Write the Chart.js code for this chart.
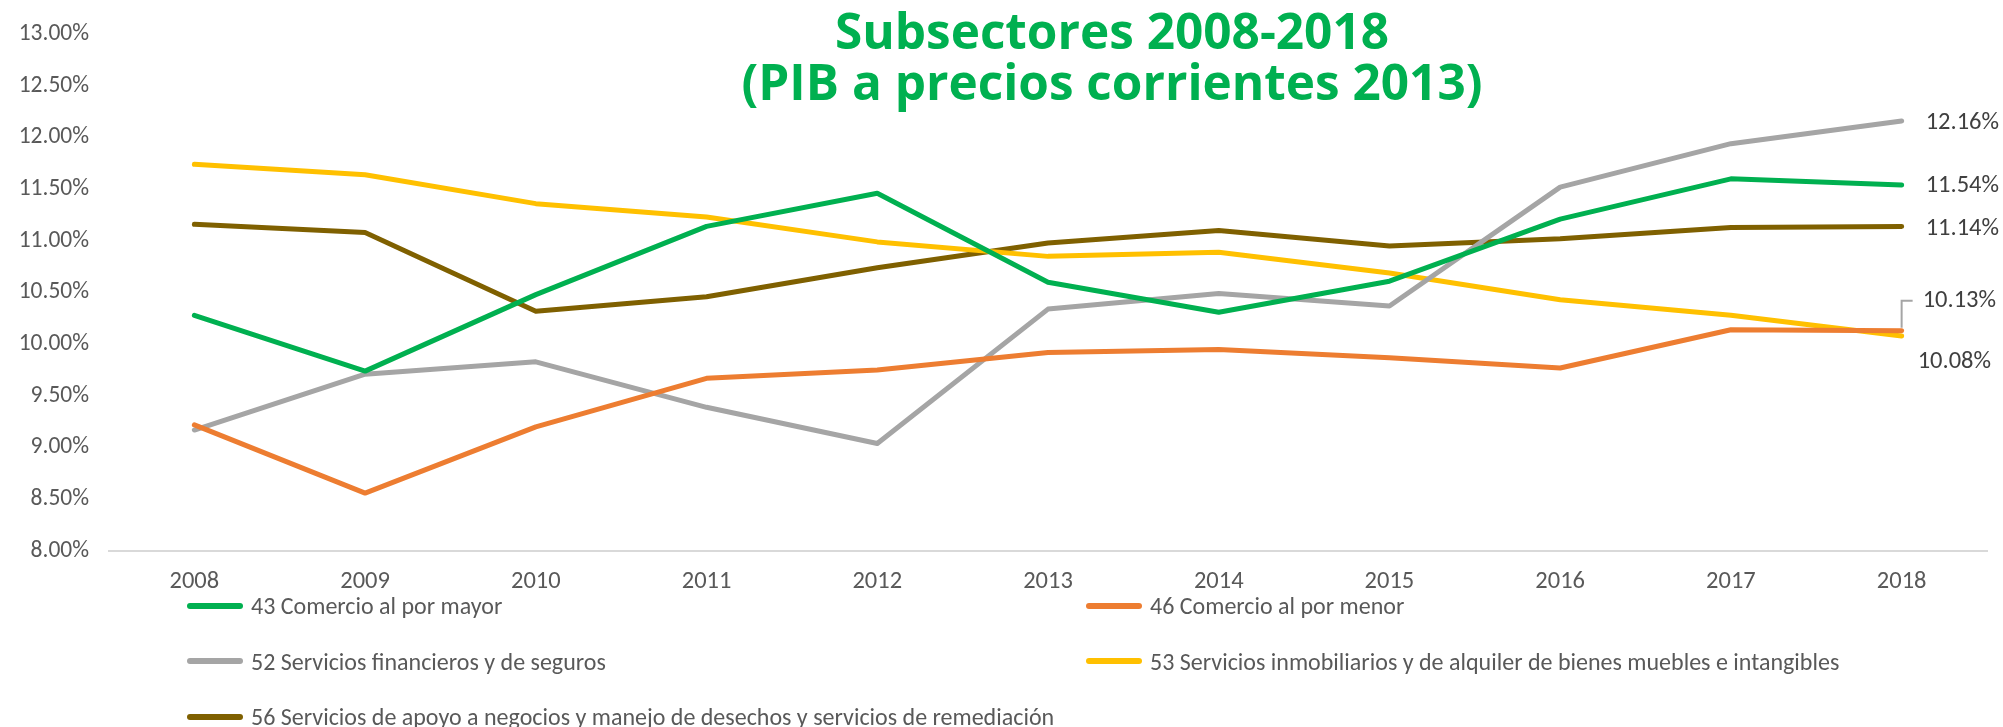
<!DOCTYPE html>
<html>
<head>
<meta charset="utf-8">
<script src="https://cdn.jsdelivr.net/npm/chart.js@4/dist/chart.umd.min.js"></script>
<style>
  html, body { margin: 0; padding: 0; background: #ffffff; }
  #wrap { position: relative; width: 2003px; height: 727px; overflow: hidden; }
  #chart { position: absolute; left: 0; top: 0; }
  #title {
    position: absolute; left: 612px; width: 1000px; top: 5px;
    text-align: center; color: #00B050;
    font-family: "Open Sans", Lato, sans-serif; font-weight: 700;
    font-size: 49.5px; line-height: 51px;
  }
  #legend { position: absolute; left: 187px; top: 578px; width: 1800px; }
  .lg-item { position: absolute; display: flex; align-items: center; height: 55px;
    font-family: Carlito, Lato, sans-serif; font-size: 24px; color: #595959; white-space: nowrap; }
  .lg-sw { display: inline-block; width: 56px; height: 6px; border-radius: 3px; margin-right: 8px; }
</style>
</head>
<body>
<div id="wrap">
  <canvas id="chart" width="2003" height="727"></canvas>
  <div id="title">Subsectores 2008-2018<br>(PIB a precios corrientes 2013)</div>
  <div id="legend"></div>
</div>
<script>
// ---- data ----
const years = ['2008','2009','2010','2011','2012','2013','2014','2015','2016','2017','2018'];
const seriesNames = [
  '43 Comercio al por mayor',
  '46 Comercio al por menor',
  '52 Servicios financieros y de seguros',
  '53 Servicios inmobiliarios y de alquiler de bienes muebles e intangibles',
  '56 Servicios de apoyo a negocios y manejo de desechos y servicios de remediación'
];
const comercioMayor   = [10.28, 9.74, 10.48, 11.14, 11.46, 10.60, 10.31, 10.61, 11.21, 11.60, 11.54];
const comercioMenor   = [9.22, 8.56, 9.20, 9.67, 9.75, 9.92, 9.95, 9.87, 9.77, 10.14, 10.13];
const financieros     = [9.17, 9.71, 9.83, 9.39, 9.04, 10.34, 10.49, 10.37, 11.52, 11.94, 12.16];
const inmobiliarios   = [11.74, 11.64, 11.36, 11.23, 10.99, 10.85, 10.89, 10.69, 10.43, 10.28, 10.08];
const apoyoNegocios   = [11.16, 11.08, 10.32, 10.46, 10.74, 10.98, 11.10, 10.95, 11.02, 11.13, 11.14];
const yTickMin = 8, yTickMax = 13, yTickStep = 0.5;

// ---- styles ----
const colors = ['#00B050', '#ED7D31', '#A5A5A5', '#FFC000', '#7F6000'];
const labelShift = [ {dx: 24, dy: 1}, {dx: 21, dy: -30, leader: true}, {dx: 24, dy: 2}, {dx: 16, dy: 26}, {dx: 24, dy: 2} ];
const tickFont = 'Carlito, Lato, sans-serif';

const allSeries = [comercioMayor, comercioMenor, financieros, inmobiliarios, apoyoNegocios];

const endLabels = {
  id: 'endLabels',
  afterDatasetsDraw(chart) {
    const ctx = chart.ctx;
    ctx.save();
    chart.data.datasets.forEach((ds, i) => {
      const meta = chart.getDatasetMeta(i);
      const last = meta.data.length - 1;
      const pt = meta.data[last];
      const v = ds.data[last];
      const s = labelShift[i];
      if (s.leader) {
        ctx.strokeStyle = '#A5A5A5';
        ctx.lineWidth = 2;
        ctx.beginPath();
        ctx.moveTo(pt.x, pt.y - 3);
        ctx.lineTo(pt.x, pt.y + s.dy);
        ctx.lineTo(pt.x + 11, pt.y + s.dy);
        ctx.stroke();
      }
      ctx.fillStyle = '#404040';
      ctx.font = '24.5px ' + tickFont;
      ctx.textAlign = 'left';
      ctx.textBaseline = 'middle';
      ctx.fillText(v.toFixed(2) + '%', pt.x + s.dx, pt.y + s.dy);
    });
    ctx.restore();
  }
};

const chart = new Chart(document.getElementById('chart'), {
  type: 'line',
  data: {
    labels: years,
    datasets: allSeries.map((arr, i) => ({
      label: seriesNames[i],
      data: arr,
      borderColor: colors[i],
      backgroundColor: colors[i],
      borderWidth: 5,
      borderCapStyle: 'round',
      borderJoinStyle: 'round',
      pointRadius: 0,
      tension: 0,
      fill: false
    }))
  },
  options: {
    responsive: false,
    animation: false,
    layout: { padding: { top: 26, right: 16, bottom: 0, left: 0 } },
    plugins: { legend: { display: false }, title: { display: false }, tooltip: { enabled: false } },
    scales: {
      x: {
        offset: true,
        grid: { display: false, drawTicks: false },
        border: { display: true, color: '#D9D9D9', width: 2 },
        ticks: { color: '#595959', font: { family: tickFont, size: 24.5 }, padding: 16, maxRotation: 0 },
        afterFit(scale) { scale.height = 176; }
      },
      y: {
        min: yTickMin, max: yTickMax,
        grid: { display: false, drawTicks: false },
        border: { display: false },
        ticks: {
          stepSize: yTickStep, color: '#595959', font: { family: tickFont, size: 23.5 }, padding: 20,
          callback: (v) => Number(v).toFixed(2) + '%'
        },
        afterFit(scale) { scale.width = 109; }
      }
    }
  },
  plugins: [endLabels]
});

// HTML legend built from chart datasets (two columns, Excel-like)
const legend = document.getElementById('legend');
chart.data.datasets.forEach((ds, i) => {
  const item = document.createElement('div');
  item.className = 'lg-item';
  item.style.left = (i % 2) * 899 + 'px';
  item.style.top = Math.floor(i / 2) * 55.5 + 'px';
  const sw = document.createElement('span');
  sw.className = 'lg-sw';
  sw.style.background = ds.borderColor;
  const tx = document.createElement('span');
  tx.textContent = ds.label;
  item.appendChild(sw);
  item.appendChild(tx);
  legend.appendChild(item);
});
</script>
</body>
</html>
